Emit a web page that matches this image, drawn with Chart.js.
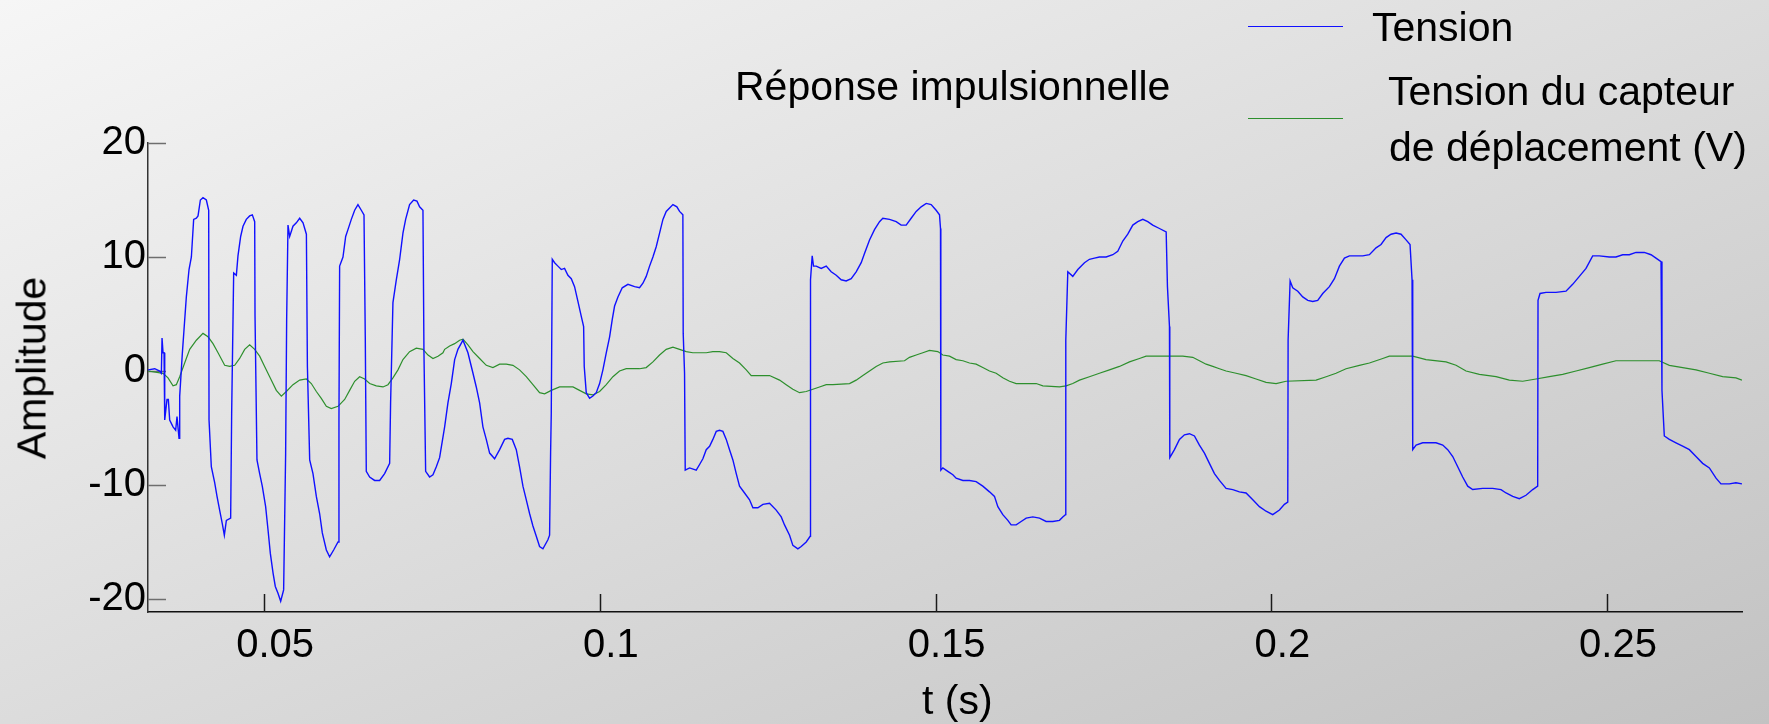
<!DOCTYPE html>
<html lang="fr">
<head>
    <meta charset="UTF-8" />
    <title>Réponse impulsionnelle</title>
    <style>
        body {
            margin: 0;
            font-family: 'Liberation Sans', Arial, sans-serif;
        }
        .figure {
            position: relative;
            width: 1769px;
            height: 724px;
            overflow: hidden;
            background: linear-gradient(to bottom right, #f6f6f6, #c2c2c2);
        }
        .figure canvas {
            position: absolute;
            left: 0;
            top: 0;
        }
        .txt {
            position: absolute;
            font-size: 41px;
            line-height: 41px;
            color: #000;
            white-space: nowrap;
        }
        .key {
            position: absolute;
            left: 1248px;
            width: 95px;
        }
    </style>
</head>
<body>
    <div class="figure">
        <canvas id="chart"></canvas>
        <div class="txt" style="left:735px; top:66px;">Réponse impulsionnelle</div>
        <div class="key" style="top:26px; border-top:1.5px solid #1010ff;"></div>
        <div class="txt" style="left:1372px; top:7px;">Tension</div>
        <div class="key" style="top:118px; border-top:1.2px solid #2d8f2d;"></div>
        <div class="txt" style="left:1388px; top:71px;">Tension du capteur</div>
        <div class="txt" style="left:1389px; top:127px;">de déplacement (V)</div>
        <div class="txt" style="left:922px; top:680px;">t (s)</div>
        <div class="txt" style="left:31.6px; top:368px; transform:translate(-50%, -50%) rotate(-90deg);">Amplitude</div>
    </div>

    <script src="https://cdn.jsdelivr.net/npm/chart.js"></script>
    <script>
        // axes
        const xTicks = [0.05, 0.1, 0.15, 0.2, 0.25];
        const yTicks = [-20, -10, 0, 10, 20];

        // Tension : [t (s), amplitude]
        const tension = [
            [0.03270,0.1],[0.03370,0.2],[0.03444,0.0],[0.03469,-0.2],[0.03479,2.9],[0.03494,1.6],[0.03509,1.6],[0.03519,-4.3],
            [0.03553,-2.5],[0.03573,-2.5],[0.03593,-4.3],[0.03643,-4.9],[0.03682,-5.2],[0.03702,-4.0],[0.03732,-5.9],[0.03742,-2.2],
            [0.03782,1.6],[0.03806,3.6],[0.03841,6.5],[0.03881,8.9],[0.03916,10.0],[0.03950,13.3],[0.03990,13.4],[0.04015,13.6],
            [0.04050,15.0],[0.04089,15.2],[0.04139,15.0],[0.04174,14.1],[0.04179,-4.3],[0.04213,-8.4],[0.04263,-9.8],[0.04298,-11.0],
            [0.04337,-12.2],[0.04377,-13.4],[0.04407,-14.4],[0.04437,-13.1],[0.04501,-12.9],[0.04516,-3.7],[0.04546,8.6],[0.04586,8.4],
            [0.04610,10.1],[0.04650,11.8],[0.04685,12.7],[0.04734,13.3],[0.04784,13.6],[0.04824,13.7],[0.04859,13.1],[0.04864,4.8],
            [0.04893,-7.8],[0.04933,-9.0],[0.04972,-10.1],[0.05022,-11.9],[0.05057,-13.9],[0.05092,-16.0],[0.05132,-17.7],[0.05166,-18.9],
            [0.05206,-19.5],[0.05246,-20.2],[0.05290,-19.2],[0.05320,-7.2],[0.05335,4.5],[0.05355,12.8],[0.05380,11.8],[0.05429,12.7],
            [0.05479,13.0],[0.05529,13.4],[0.05579,13.0],[0.05629,12.0],[0.05644,0.4],[0.05678,-7.8],[0.05727,-9.0],[0.05777,-11.0],
            [0.05826,-12.5],[0.05866,-14.2],[0.05926,-15.7],[0.05975,-16.3],[0.06035,-15.7],[0.06100,-15.0],[0.06114,-4.3],[0.06124,9.2],
            [0.06174,10.0],[0.06214,11.8],[0.06248,12.4],[0.06298,13.3],[0.06348,14.1],[0.06397,14.6],[0.06447,14.1],[0.06487,13.7],
            [0.06506,3.0],[0.06521,-8.8],[0.06571,-9.3],[0.06645,-9.6],[0.06720,-9.6],[0.06794,-9.0],[0.06869,-8.1],[0.06883,-2.8],
            [0.06918,6.0],[0.06968,8.0],[0.07018,9.8],[0.07067,12.1],[0.07107,13.3],[0.07166,14.6],[0.07226,15.0],[0.07276,14.9],
            [0.07315,14.4],[0.07365,14.1],[0.07380,1.6],[0.07405,-8.8],[0.07464,-9.3],[0.07514,-9.1],[0.07564,-8.4],[0.07613,-7.6],
            [0.07688,-4.9],[0.07737,-2.8],[0.07787,-1.1],[0.07837,1.0],[0.07886,1.9],[0.07961,2.7],[0.08035,1.6],[0.08110,-0.2],
            [0.08159,-1.4],[0.08209,-2.8],[0.08258,-4.9],[0.08308,-6.0],[0.08358,-7.2],[0.08432,-7.7],[0.08507,-6.9],[0.08581,-6.0],
            [0.08631,-5.9],[0.08695,-6.0],[0.08755,-6.9],[0.08804,-8.4],[0.08854,-10.1],[0.08904,-11.3],[0.08953,-12.5],[0.09003,-13.6],
            [0.09053,-14.5],[0.09102,-15.4],[0.09152,-15.6],[0.09226,-14.8],[0.09251,-14.4],[0.09266,-7.2],[0.09276,-3.7],[0.09291,9.8],
            [0.09326,9.5],[0.09375,9.2],[0.09425,8.9],[0.09474,9.0],[0.09524,8.4],[0.09574,8.1],[0.09623,7.4],[0.09673,6.1],
            [0.09723,4.8],[0.09758,3.9],[0.09767,0.4],[0.09797,-1.9],[0.09847,-2.4],[0.09896,-2.2],[0.09946,-1.9],[0.09996,-1.1],
            [0.10045,0.1],[0.10095,1.6],[0.10145,3.0],[0.10184,4.5],[0.10219,5.7],[0.10269,6.5],[0.10333,7.3],[0.10418,7.6],
            [0.10517,7.4],[0.10591,7.3],[0.10641,7.7],[0.10690,8.3],[0.10740,9.2],[0.10790,10.0],[0.10839,10.9],[0.10889,12.1],
            [0.10939,13.3],[0.10988,14.0],[0.11038,14.3],[0.11088,14.6],[0.11147,14.4],[0.11187,14.0],[0.11236,13.7],[0.11241,3.3],
            [0.11261,-0.2],[0.11271,-8.7],[0.11336,-8.5],[0.11435,-8.7],[0.11485,-8.2],[0.11534,-7.7],[0.11584,-6.9],[0.11634,-6.6],
            [0.11683,-6.0],[0.11733,-5.3],[0.11782,-5.2],[0.11832,-5.3],[0.11882,-6.0],[0.11931,-6.9],[0.11981,-7.8],[0.12031,-9.0],
            [0.12080,-10.1],[0.12155,-10.7],[0.12229,-11.3],[0.12279,-12.0],[0.12353,-12.0],[0.12428,-11.7],[0.12527,-11.6],[0.12626,-12.2],
            [0.12701,-12.8],[0.12750,-13.5],[0.12825,-14.4],[0.12874,-15.3],[0.12949,-15.6],[0.12998,-15.4],[0.13073,-15.0],[0.13132,-14.5],
            [0.13137,8.0],[0.13162,10.1],[0.13182,9.2],[0.13222,9.2],[0.13296,9.0],[0.13371,9.2],[0.13445,8.7],[0.13520,8.4],
            [0.13594,8.0],[0.13668,7.9],[0.13743,8.1],[0.13817,8.7],[0.13892,9.5],[0.13941,10.3],[0.14016,11.5],[0.14090,12.4],
            [0.14165,13.1],[0.14214,13.4],[0.14314,13.3],[0.14413,13.1],[0.14487,12.8],[0.14562,12.8],[0.14636,13.4],[0.14711,14.0],
            [0.14785,14.4],[0.14860,14.7],[0.14934,14.6],[0.15008,14.1],[0.15058,13.7],[0.15073,12.5],[0.15078,-8.7],[0.15108,-8.5],
            [0.15182,-8.8],[0.15257,-9.1],[0.15306,-9.4],[0.15406,-9.6],[0.15505,-9.6],[0.15604,-9.7],[0.15703,-10.1],[0.15803,-10.6],
            [0.15877,-11.0],[0.15927,-11.9],[0.16001,-12.6],[0.16076,-13.1],[0.16125,-13.5],[0.16200,-13.5],[0.16274,-13.2],[0.16349,-12.9],
            [0.16448,-12.8],[0.16547,-12.9],[0.16646,-13.2],[0.16746,-13.2],[0.16845,-13.1],[0.16894,-12.8],[0.16934,-12.6],[0.16939,2.7],
            [0.16969,8.7],[0.17043,8.3],[0.17118,8.9],[0.17217,9.5],[0.17291,9.8],[0.17366,9.9],[0.17440,10.0],[0.17540,10.0],
            [0.17639,10.2],[0.17713,10.5],[0.17788,11.4],[0.17862,12.0],[0.17937,12.8],[0.18011,13.1],[0.18086,13.3],[0.18160,13.1],
            [0.18234,12.8],[0.18334,12.5],[0.18434,12.2],[0.18453,7.4],[0.18483,3.9],[0.18488,-7.6],[0.18557,-6.9],[0.18632,-6.0],
            [0.18706,-5.6],[0.18780,-5.5],[0.18855,-5.7],[0.18929,-6.5],[0.19004,-7.2],[0.19078,-8.1],[0.19153,-9.0],[0.19227,-9.6],
            [0.19326,-10.3],[0.19426,-10.4],[0.19525,-10.6],[0.19624,-10.7],[0.19724,-11.3],[0.19823,-11.9],[0.19922,-12.3],[0.20021,-12.6],
            [0.20121,-12.2],[0.20195,-11.7],[0.20245,-11.5],[0.20250,2.7],[0.20280,7.9],[0.20319,7.3],[0.20394,7.0],[0.20468,6.5],
            [0.20543,6.2],[0.20617,6.1],[0.20691,6.2],[0.20766,6.8],[0.20865,7.4],[0.20940,8.1],[0.21014,9.2],[0.21089,9.9],
            [0.21163,10.1],[0.21262,10.1],[0.21362,10.1],[0.21461,10.2],[0.21560,10.8],[0.21634,11.1],[0.21709,11.7],[0.21783,12.0],
            [0.21858,12.1],[0.21932,12.0],[0.22007,11.5],[0.22066,11.1],[0.22096,8.0],[0.22106,-6.9],[0.22156,-6.5],[0.22255,-6.3],
            [0.22354,-6.3],[0.22453,-6.3],[0.22553,-6.5],[0.22627,-6.9],[0.22702,-7.5],[0.22776,-8.4],[0.22850,-9.3],[0.22925,-10.1],
            [0.22999,-10.4],[0.23148,-10.3],[0.23297,-10.3],[0.23421,-10.4],[0.23496,-10.7],[0.23595,-11.0],[0.23694,-11.2],[0.23793,-10.9],
            [0.23893,-10.4],[0.23967,-10.1],[0.23972,6.2],[0.24002,6.8],[0.24091,6.9],[0.24240,6.9],[0.24389,7.0],[0.24488,7.6],
            [0.24588,8.3],[0.24687,9.0],[0.24786,10.1],[0.24885,10.1],[0.25034,10.0],[0.25133,10.0],[0.25233,10.2],[0.25332,10.2],
            [0.25431,10.4],[0.25555,10.4],[0.25655,10.2],[0.25729,9.9],[0.25804,9.6],[0.25818,-1.7],[0.25853,-5.7],[0.25928,-6.0],
            [0.26027,-6.3],[0.26126,-6.6],[0.26226,-6.9],[0.26325,-7.5],[0.26424,-8.1],[0.26524,-8.5],[0.26623,-9.4],[0.26697,-9.9],
            [0.26821,-9.9],[0.26920,-9.8],[0.27010,-9.9]
        ];

        // Tension du capteur de déplacement (V) : [t (s), amplitude]
        const capteur = [
            [0.03270,0.0],[0.03494,-0.2],[0.03568,-0.6],[0.03643,-1.3],[0.03692,-1.2],[0.03742,-0.5],[0.03816,0.7],[0.03891,1.9],
            [0.03990,2.7],[0.04089,3.3],[0.04164,3.0],[0.04238,2.4],[0.04313,1.6],[0.04412,0.5],[0.04486,0.4],[0.04561,0.5],
            [0.04635,1.1],[0.04710,1.9],[0.04784,2.3],[0.04859,1.9],[0.04933,1.3],[0.05007,0.4],[0.05082,-0.5],[0.05181,-1.7],
            [0.05256,-2.2],[0.05330,-1.8],[0.05429,-1.2],[0.05529,-0.8],[0.05629,-0.7],[0.05702,-1.1],[0.05777,-1.8],[0.05851,-2.4],
            [0.05926,-3.1],[0.06000,-3.3],[0.06100,-3.1],[0.06199,-2.5],[0.06273,-1.7],[0.06348,-0.9],[0.06422,-0.5],[0.06497,-0.7],
            [0.06571,-1.1],[0.06670,-1.3],[0.06770,-1.4],[0.06844,-1.2],[0.06918,-0.6],[0.06993,0.1],[0.07067,1.0],[0.07166,1.7],
            [0.07266,2.0],[0.07365,1.9],[0.07440,1.4],[0.07514,1.1],[0.07589,1.3],[0.07663,1.6],[0.07688,1.9],[0.07762,2.2],
            [0.07837,2.4],[0.07911,2.7],[0.07961,2.8],[0.08035,2.3],[0.08110,1.7],[0.08209,1.1],[0.08308,0.5],[0.08407,0.3],
            [0.08507,0.6],[0.08606,0.6],[0.08705,0.5],[0.08804,0.1],[0.08904,-0.5],[0.09003,-1.2],[0.09102,-1.9],[0.09177,-2.0],
            [0.09276,-1.7],[0.09400,-1.4],[0.09599,-1.4],[0.09698,-1.7],[0.09797,-2.0],[0.09896,-2.1],[0.09996,-1.8],[0.10095,-1.2],
            [0.10194,-0.5],[0.10293,0.0],[0.10393,0.2],[0.10591,0.2],[0.10690,0.3],[0.10790,0.8],[0.10889,1.4],[0.10988,1.9],
            [0.11088,2.1],[0.11187,1.9],[0.11286,1.7],[0.11385,1.6],[0.11584,1.6],[0.11683,1.7],[0.11782,1.7],[0.11882,1.6],
            [0.11981,1.1],[0.12080,0.7],[0.12180,0.1],[0.12254,-0.4],[0.12527,-0.4],[0.12676,-0.8],[0.12775,-1.2],[0.12874,-1.6],
            [0.12974,-1.9],[0.13073,-1.8],[0.13172,-1.6],[0.13271,-1.4],[0.13371,-1.2],[0.13470,-1.2],[0.13718,-1.1],[0.13817,-0.8],
            [0.13917,-0.4],[0.14016,0.0],[0.14115,0.4],[0.14214,0.7],[0.14314,0.8],[0.14537,0.9],[0.14611,1.2],[0.14711,1.4],
            [0.14810,1.6],[0.14909,1.8],[0.15033,1.7],[0.15108,1.4],[0.15207,1.3],[0.15306,1.0],[0.15406,0.9],[0.15505,0.7],
            [0.15604,0.6],[0.15703,0.3],[0.15803,0.0],[0.15902,-0.2],[0.16001,-0.6],[0.16101,-0.9],[0.16200,-1.1],[0.16498,-1.1],
            [0.16597,-1.3],[0.16845,-1.4],[0.16944,-1.3],[0.17043,-1.1],[0.17143,-0.8],[0.17291,-0.5],[0.17440,-0.2],[0.17589,0.1],
            [0.17738,0.4],[0.17887,0.8],[0.18036,1.1],[0.18135,1.3],[0.18681,1.3],[0.18830,1.2],[0.18929,0.9],[0.19029,0.6],
            [0.19128,0.4],[0.19227,0.2],[0.19326,0.0],[0.19475,-0.2],[0.19624,-0.4],[0.19773,-0.7],[0.19922,-1.0],[0.20071,-1.1],
            [0.20220,-0.9],[0.20667,-0.8],[0.20816,-0.5],[0.20964,-0.2],[0.21113,0.2],[0.21312,0.5],[0.21461,0.7],[0.21560,0.9],
            [0.21659,1.1],[0.21758,1.3],[0.21907,1.3],[0.22106,1.3],[0.22304,1.0],[0.22602,0.8],[0.22751,0.5],[0.22900,0.0],
            [0.23099,-0.3],[0.23347,-0.5],[0.23545,-0.8],[0.23744,-0.9],[0.23942,-0.7],[0.24141,-0.5],[0.24339,-0.3],[0.24538,0.0],
            [0.24736,0.3],[0.24935,0.6],[0.25133,0.9],[0.25778,0.9],[0.25928,0.5],[0.26126,0.3],[0.26325,0.1],[0.26524,-0.2],
            [0.26722,-0.5],[0.26920,-0.6],[0.27010,-0.8]
        ];

        const toPoints = arr => arr.map(p => ({ x: p[0], y: p[1] }));

        // petits traits de graduation tournés vers l'intérieur
        const inwardTicks = {
            id: 'inwardTicks',
            beforeDatasetsDraw(chart) {
                const { ctx, chartArea, scales } = chart;
                ctx.save();
                ctx.lineWidth = 1.5;
                ctx.strokeStyle = '#6e6e6e';
                scales.y.ticks.forEach(t => {
                    const py = Math.round(scales.y.getPixelForValue(t.value)) + 0.5;
                    ctx.beginPath();
                    ctx.moveTo(chartArea.left, py);
                    ctx.lineTo(chartArea.left + 18, py);
                    ctx.stroke();
                });
                ctx.strokeStyle = '#1a1a1a';
                scales.x.ticks.forEach(t => {
                    const px = Math.round(scales.x.getPixelForValue(t.value)) + 0.5;
                    ctx.beginPath();
                    ctx.moveTo(px, chartArea.bottom);
                    ctx.lineTo(px, chartArea.bottom - 18);
                    ctx.stroke();
                });
                ctx.restore();
            }
        };

        Chart.defaults.font.family = "'Liberation Sans', Arial, sans-serif";
        Chart.defaults.font.size = 40;
        Chart.defaults.color = '#000';

        const canvas = document.getElementById('chart');
        canvas.width = 1769;
        canvas.height = 724;

        new Chart(canvas, {
            type: 'line',
            data: {
                datasets: [
                    {
                        label: 'Tension',
                        data: toPoints(tension),
                        borderColor: '#1010ff',
                        borderWidth: 1.4,
                        pointRadius: 0,
                        tension: 0,
                        fill: false
                    },
                    {
                        label: 'Tension du capteur de déplacement (V)',
                        data: toPoints(capteur),
                        borderColor: '#2d8f2d',
                        borderWidth: 1.2,
                        pointRadius: 0,
                        tension: 0,
                        fill: false
                    }
                ]
            },
            options: {
                responsive: false,
                animation: false,
                layout: { padding: { left: 0, right: 27, top: 143, bottom: 0 } },
                plugins: {
                    legend: { display: false },
                    tooltip: { enabled: false }
                },
                scales: {
                    x: {
                        type: 'linear',
                        min: 0.0327,
                        max: 0.2701,
                        afterFit: s => { s.height = 112; },
                        afterBuildTicks: s => { s.ticks = xTicks.map(v => ({ value: v })); },
                        grid: { display: false, drawTicks: false },
                        border: { display: true, color: '#111', width: 1.5 },
                        ticks: {
                            padding: 10,
                            labelOffset: 11,
                            maxRotation: 0,
                            callback: v => String(+v.toFixed(2))
                        }
                    },
                    y: {
                        min: -21.14,
                        max: 20,
                        afterFit: s => { s.width = 148; },
                        afterBuildTicks: s => { s.ticks = yTicks.map(v => ({ value: v })); },
                        grid: { display: false, drawTicks: false },
                        border: { display: true, color: '#333', width: 1.5 },
                        ticks: { padding: 2 }
                    }
                }
            },
            plugins: [inwardTicks]
        });
    </script>
</body>
</html>
